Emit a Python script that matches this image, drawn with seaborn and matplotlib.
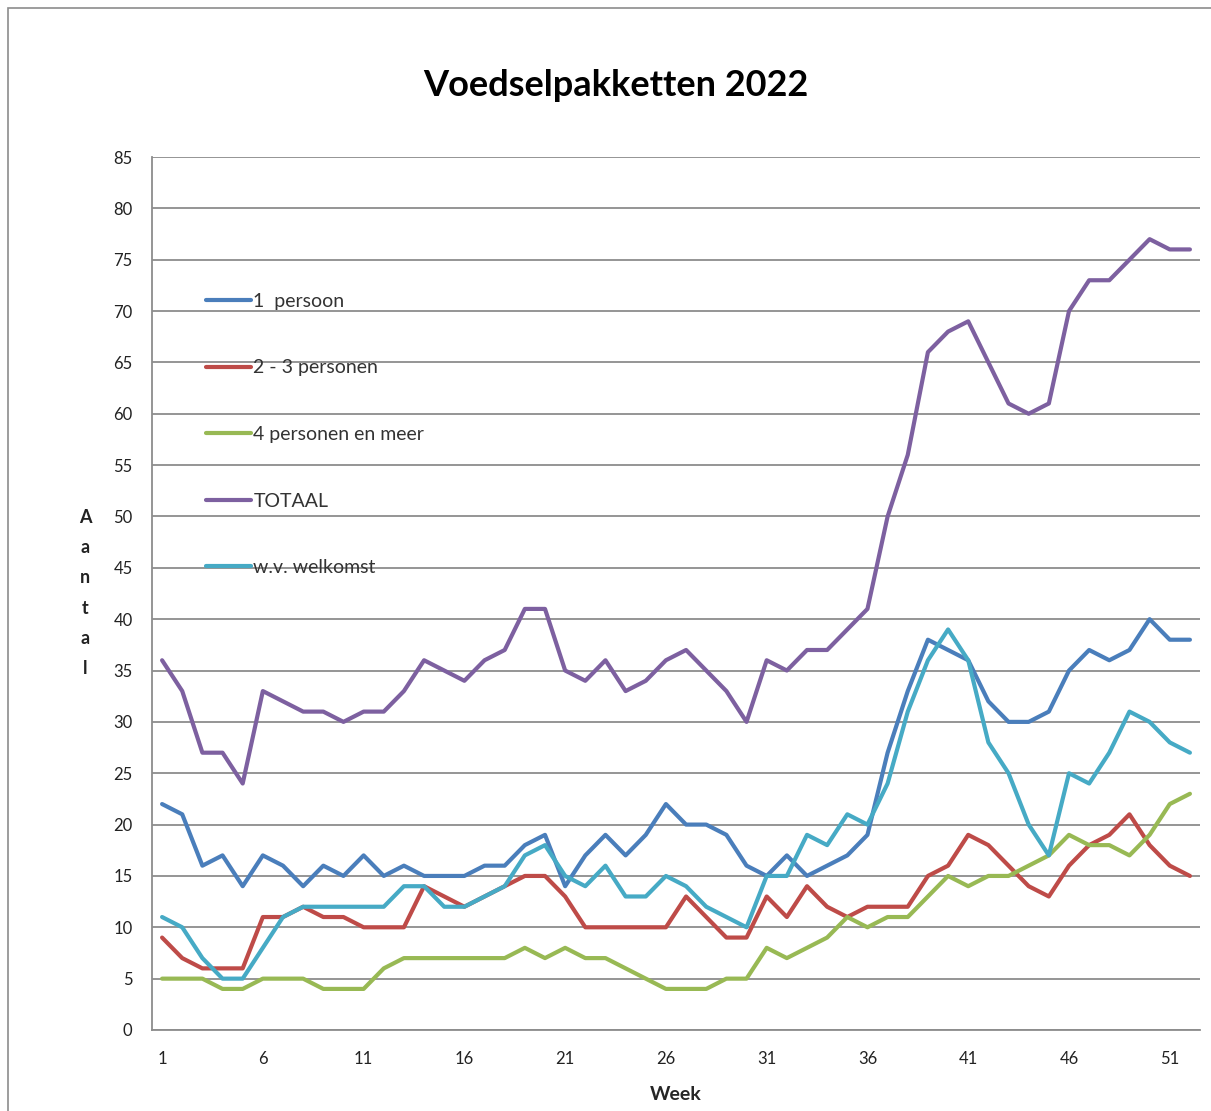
import numpy as np
import pandas as pd
import matplotlib.pyplot as plt
import matplotlib.patches as patches
import seaborn as sns

# Weekly counts
weeks = list(range(1, 53))

een_persoon = [22, 21, 16, 17, 14, 17, 16, 14, 16, 15, 17, 15, 16, 15, 15, 15, 16, 16, 18, 19,
               14, 17, 19, 17, 19, 22, 20, 20, 19, 16, 15, 17, 15, 16, 17, 19, 27, 33, 38, 37,
               36, 32, 30, 30, 31, 35, 37, 36, 37, 40, 38, 38]
twee_drie = [9, 7, 6, 6, 6, 11, 11, 12, 11, 11, 10, 10, 10, 14, 13, 12, 13, 14, 15, 15,
             13, 10, 10, 10, 10, 10, 13, 11, 9, 9, 13, 11, 14, 12, 11, 12, 12, 12, 15, 16,
             19, 18, 16, 14, 13, 16, 18, 19, 21, 18, 16, 15]
vier_meer = [5, 5, 5, 4, 4, 5, 5, 5, 4, 4, 4, 6, 7, 7, 7, 7, 7, 7, 8, 7,
             8, 7, 7, 6, 5, 4, 4, 4, 5, 5, 8, 7, 8, 9, 11, 10, 11, 11, 13, 15,
             14, 15, 15, 16, 17, 19, 18, 18, 17, 19, 22, 23]
totaal = [36, 33, 27, 27, 24, 33, 32, 31, 31, 30, 31, 31, 33, 36, 35, 34, 36, 37, 41, 41,
          35, 34, 36, 33, 34, 36, 37, 35, 33, 30, 36, 35, 37, 37, 39, 41, 50, 56, 66, 68,
          69, 65, 61, 60, 61, 70, 73, 73, 75, 77, 76, 76]
welkomst = [11, 10, 7, 5, 5, 8, 11, 12, 12, 12, 12, 12, 14, 14, 12, 12, 13, 14, 17, 18,
            15, 14, 16, 13, 13, 15, 14, 12, 11, 10, 15, 15, 19, 18, 21, 20, 24, 31, 36, 39,
            36, 28, 25, 20, 17, 25, 24, 27, 31, 30, 28, 27]

series_names = ["1  persoon", "2 - 3 personen", "4 personen en meer", "TOTAAL", "w.v. welkomst"]
series_values = [een_persoon, twee_drie, vier_meer, totaal, welkomst]
colors = ["#4A7EBB", "#BE4B48", "#98B954", "#7D60A0", "#46AAC5"]

df = pd.concat(
    [pd.DataFrame({"Week": weeks, "Aantal": vals, "Serie": name})
     for name, vals in zip(series_names, series_values)],
    ignore_index=True,
)

sns.set_style("white")
plt.rcParams['font.family'] = ['Lato', 'DejaVu Sans']

W, H = 1211, 1111
fig = plt.figure(figsize=(W / 100, H / 100), dpi=100)
ax = fig.add_axes([152 / W, 1 - 1030 / H, (1200 - 152) / W, (1030 - 157) / H])

sns.lineplot(data=df, x="Week", y="Aantal", hue="Serie", hue_order=series_names,
             palette=colors, linewidth=3, ax=ax, zorder=3)

grid_col = "#8C8C8C"
ax.set_xlim(0.5, 52.5)
ax.set_ylim(0, 85)
ax.set_yticks(np.arange(0, 86, 5))
ax.yaxis.grid(True, color=grid_col, linewidth=1.3)
ax.set_axisbelow(True)
ax.tick_params(axis='y', length=0, pad=14, labelsize=12, labelcolor='#222222')

ax.set_xticks(np.arange(1, 53, 5))
ax.set_xticks(np.arange(0.5, 53, 2), minor=True)
ax.tick_params(axis='x', which='major', length=0, pad=15, labelsize=12, labelcolor='#222222')
ax.tick_params(axis='x', which='minor', length=6, width=1.2, color=grid_col, direction='out')

for side in ["top", "right"]:
    ax.spines[side].set_visible(False)
for side in ["left", "bottom"]:
    ax.spines[side].set_color(grid_col)
    ax.spines[side].set_linewidth(1.3)

ax.set_xlabel("Week", fontsize=14, fontweight='bold', labelpad=14)
# vertical stacked letters, as in the original spreadsheet chart
ax.set_ylabel("\n".join("Aantal"), rotation=0, fontsize=13, fontweight='bold',
              linespacing=1.95, va='center', ha='center', color='#222222')
ax.yaxis.set_label_coords(85 / W, 1 - 593 / H, transform=fig.transFigure)

leg = ax.legend(loc='upper left', bbox_to_anchor=(198 / W, 1 - 285 / H),
                bbox_transform=fig.transFigure, frameon=False, fontsize=14,
                handlelength=2.35, handletextpad=0.1, labelspacing=2.55,
                borderaxespad=0)
for line in leg.get_lines():
    line.set_linewidth(3)
for txt in leg.get_texts():
    txt.set_color('#333333')

fig.text(616 / W, 1 - 85 / H, "Voedselpakketten 2022", ha='center', va='center',
         fontsize=26, fontweight='bold', color='black')

# chart frame like the spreadsheet export
fig.patches.append(patches.Rectangle((8 / W, -0.05), 1.2, 1 - 8 / H + 0.05,
                                     transform=fig.transFigure, fill=False,
                                     edgecolor="#8C8C8C", linewidth=1.2))

fig.savefig("out.png", dpi=100)
